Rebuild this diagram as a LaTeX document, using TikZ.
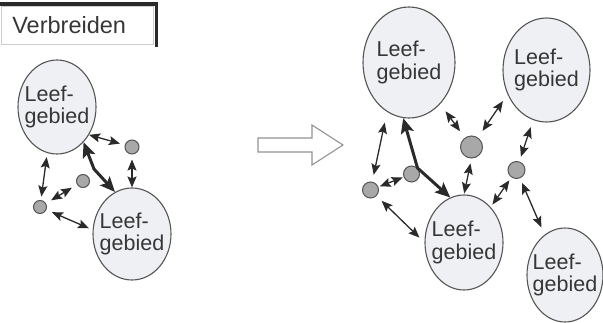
\documentclass[tikz,border=0pt]{standalone}
\usepackage{fontspec}
\setmainfont{Liberation Sans}
\usetikzlibrary{shapes.geometric,arrows.meta}
\definecolor{lijn}{HTML}{2A2A2A}
\definecolor{rand}{HTML}{555555}
\definecolor{vlak}{HTML}{EEF0F3}
\definecolor{steen}{HTML}{A8A8A8}
\definecolor{tekst}{HTML}{363636}
\newcommand{\leefgebied}{Leef-\\gebied}

\begin{document}
\begin{tikzpicture}[>={Stealth[length=11pt,width=9pt,inset=2pt]}, x=1pt, y=-1pt]
			\tikzstyle{gebied} = [draw=rand, fill=vlak, line width=1.1pt, ellipse, inner sep=0pt]
			\tikzstyle{naam} = [text=tekst, align=left, font=\fontsize{21.5}{22.5}\selectfont]
			\tikzstyle{stapsteen} = [draw=rand, fill=steen, line width=1pt, circle, inner sep=0pt]
			\tikzstyle{pijl} = [<->, draw=lijn, line width=1.3pt]
			\tikzstyle{trek} = [{Stealth[length=15pt,width=13pt,inset=3pt]}-{Stealth[length=15pt,width=13pt,inset=3pt]}, draw=lijn, line width=3pt, line join=round]

			\useasboundingbox (0,0) rectangle (603,322);

			% kopje
			\node[draw=gray!40, line width=0.7pt, anchor=north west, text width=130pt, inner xsep=11pt, minimum height=38pt, align=left, text=tekst, font=\fontsize{23.5}{26}\selectfont] (titel) at (1,6) {Verbreiden};
			\draw[line width=3.5pt, draw=lijn] ([xshift=-2pt,yshift=2pt]titel.north west) -- ([xshift=3pt,yshift=2pt]titel.north east) -- ([xshift=3pt,yshift=-2pt]titel.south east);

			\begin{scope}
			\path
			node[gebied, minimum width=78pt, minimum height=94pt, label={[naam]center:\leefgebied}] (a1) at (57,107) {}
			node[gebied, minimum width=78pt, minimum height=92pt, label={[naam]center:\leefgebied}] (a2) at (132,234) {}
			node[stapsteen, minimum size=14pt] (s1) at (132,147) {}
			node[stapsteen, minimum size=13pt] (s2) at (83,181) {}
			node[stapsteen, minimum size=13pt] (s3) at (40,207) {}

			(a1.-41) edge[pijl, shorten >=5pt] (s1)
			(s1) edge[pijl, shorten <=5pt] (a2.north)
			(a1.-102) edge[pijl, shorten <=4pt, shorten >=3.5pt] (s3)
			(s2) edge[pijl, shorten <=6pt, shorten >=6pt] (s3)
			(s3) edge[pijl, shorten <=6pt, shorten >=4pt] (a2.174)
			;
			\coordinate (knik) at (94,169);
			\draw[trek] (a1.-53) -- (knik) -- (a2.112);
			\end{scope}

			% pijl ertussen
			\draw[draw=gray!85, line width=1.1pt, fill=white] (258,138) -- (312,138) -- (312,125) -- (343,145) -- (312,165) -- (312,152) -- (258,152) -- cycle;

			\begin{scope}[xshift=340pt]
			\path
			node[gebied, minimum width=92pt, minimum height=111pt, label={[naam]center:\leefgebied}] (b1) at (69,62.5) {}
			node[gebied, minimum width=87pt, minimum height=104pt, label={[naam]center:\leefgebied}] (b2) at (206.5,70) {}
			node[gebied, minimum width=78pt, minimum height=95pt, label={[naam]center:\leefgebied}] (b3) at (124,242.5) {}
			node[gebied, minimum width=76pt, minimum height=94pt, label={[naam]center:\leefgebied}] (b4) at (225,275) {}
			node[stapsteen, minimum size=22pt] (t1) at (131.5,147) {}
			node[stapsteen, minimum size=17pt] (t2) at (176.5,170) {}
			node[stapsteen, minimum size=16pt] (t3) at (71.5,174) {}
			node[stapsteen, minimum size=16pt] (t4) at (30.5,190) {}

			(b1.-114) edge[pijl, shorten <=11pt, shorten >=7pt] (t4)
			(b1.-53) edge[pijl, shorten <=9pt, shorten >=8pt] (t1)
			(t1) edge[pijl, shorten <=8pt, shorten >=8pt] (b2.-148)
			(t2) edge[pijl, shorten <=5pt, shorten >=7.5pt] (b2.-105)
			(t1.south) edge[pijl, shorten <=5pt, shorten >=1pt] (b3.north)
			(t2) edge[pijl, shorten <=3.5pt, shorten >=3pt] (b3.53)
			(t2) edge[pijl, shorten <=5pt, shorten >=8pt] (b4.117)
			(t3) edge[pijl, shorten <=1pt, shorten >=1.5pt] (t4)
			(t4) edge[pijl, shorten <=7pt, shorten >=7pt] (b3.west)
			;
			\draw[trek] (b1.-96) -- (t3.north east) -- (b3.107);
			\end{scope}

\end{tikzpicture}
\end{document}
